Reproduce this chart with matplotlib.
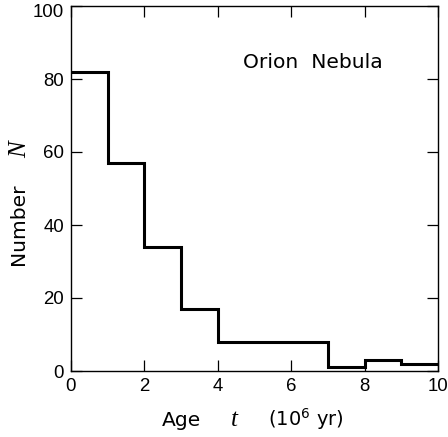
import matplotlib
matplotlib.use("Agg")
import matplotlib.pyplot as plt
import matplotlib.transforms as mtransforms
import numpy as np

plt.rcParams['font.family'] = ['DejaVu Sans']
plt.rcParams['mathtext.fontset'] = 'dejavusans'

# Data
age_edges = [0, 1, 2, 3, 4, 5, 6, 7, 8, 9, 10]
counts = [82, 57, 34, 17, 8, 8, 8, 1, 3, 2]
x_ticks = [0, 2, 4, 6, 8, 10]
y_ticks = [0, 20, 40, 60, 80, 100]
title_text = "Orion  Nebula"

W, H = 448, 437
fig = plt.figure(figsize=(W / 100, H / 100), dpi=100)
ax = fig.add_axes([71 / W, (H - 371) / H, (438 - 71) / W, (371 - 6) / H])

ax.stairs(counts, age_edges, color='black', linewidth=2.2, baseline=None)

ax.set_xlim(0, 10)
ax.set_ylim(0, 100)
ax.set_xticks(x_ticks)
ax.set_yticks(y_ticks)
ax.tick_params(direction='in', length=8, width=0.9, top=True, right=True)
ax.tick_params(axis='x', pad=5)
ax.tick_params(axis='y', pad=5)
for lab in ax.get_xticklabels() + ax.get_yticklabels():
    lab.set_fontfamily('Liberation Sans')
    lab.set_fontsize(13.4)
for s in ax.spines.values():
    s.set_linewidth(1.0)

# shift the top y tick label down slightly so it fits inside the figure
top_lab = ax.get_yticklabels()[-1]
top_lab.set_transform(top_lab.get_transform() +
                      mtransforms.ScaledTranslation(0, -4.5 / 100, fig.dpi_scale_trans))

ax.text(0.468, 0.845, title_text, transform=ax.transAxes, fontsize=14.6,
        ha='left', va='center')

def fx(px):
    return px / W

def fy(py):
    return (H - py) / H

# x-axis label pieces
fig.text(fx(162), fy(426), "Age", fontsize=14.6, ha='left', va='baseline')
fig.text(fx(231), fy(426), "t", fontsize=18, ha='left', va='baseline',
         family='Liberation Serif', style='italic')
fig.text(fx(268), fy(426), r"(10$^6$ yr)", fontsize=14, ha='left', va='baseline')

# y-axis label pieces
fig.text(fx(19), fy(224), "Number", fontsize=14.6, rotation=90,
         ha='center', va='center')
fig.text(fx(20), fy(150), "N", fontsize=18, rotation=90,
         ha='center', va='center', family='Liberation Serif', style='italic')

fig.savefig("out.png", dpi=100)
